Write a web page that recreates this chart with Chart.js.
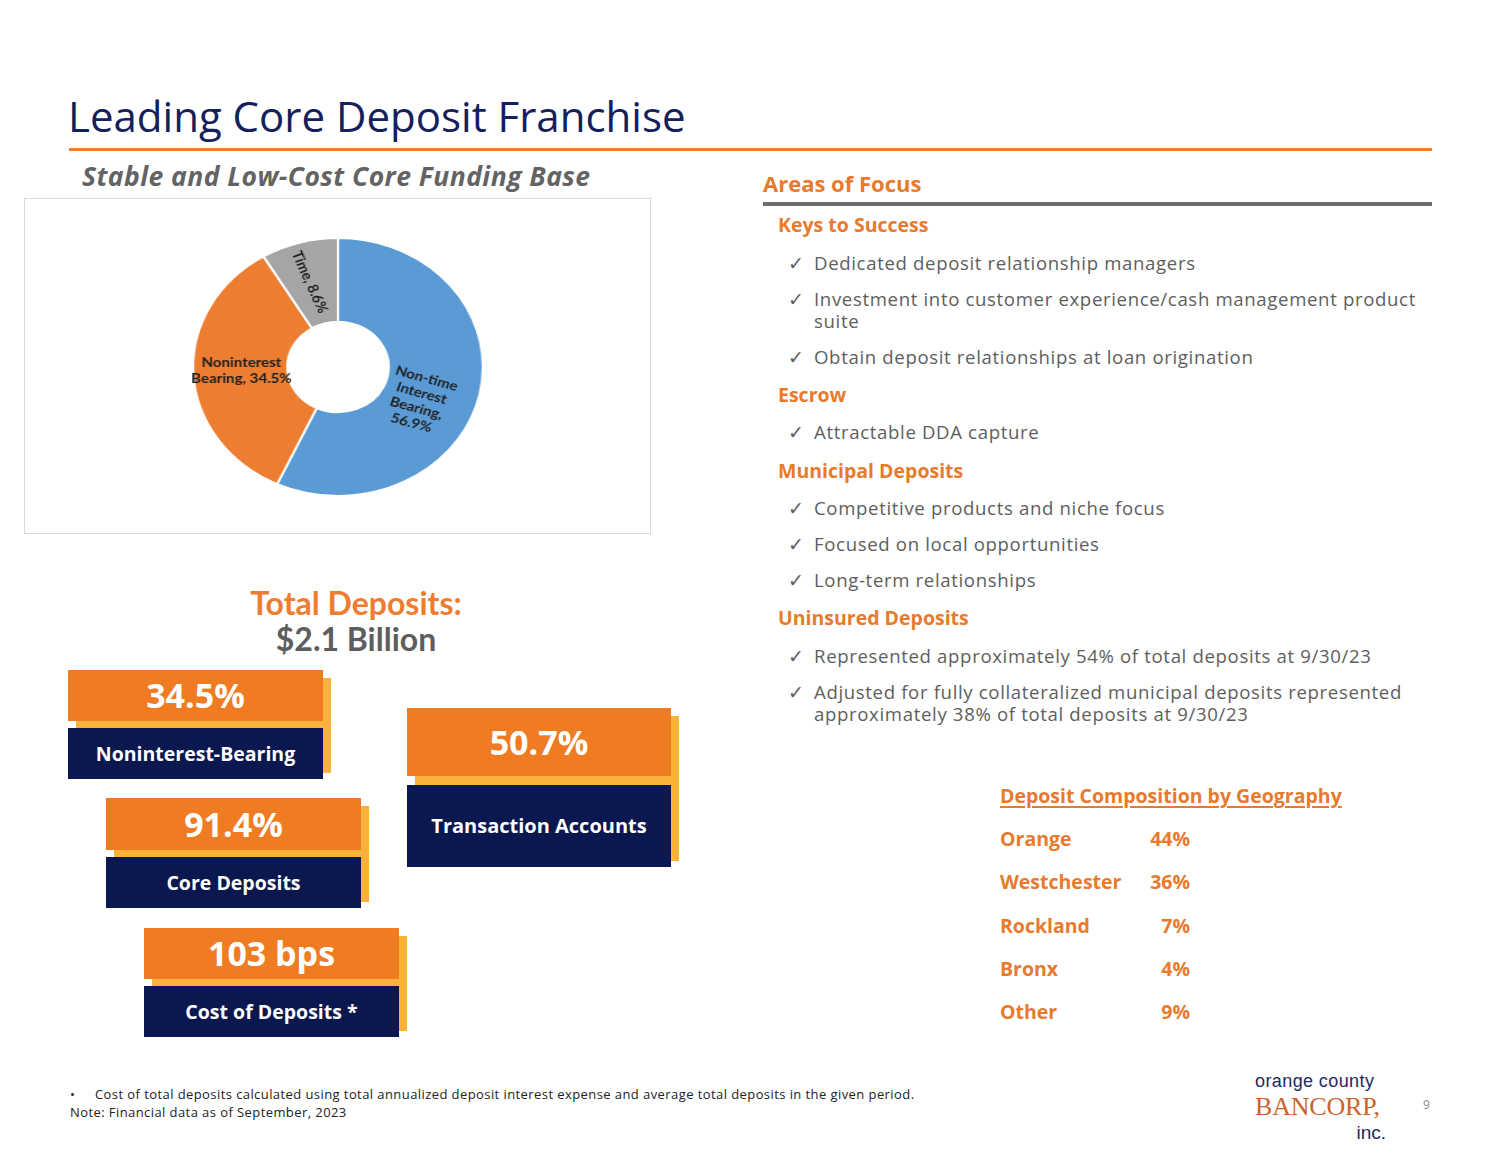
<!DOCTYPE html>
<html>
<head>
<meta charset="utf-8">
<script src="https://cdn.jsdelivr.net/npm/chart.js@4.4.0/dist/chart.umd.min.js"></script>
<style>
  html, body { margin: 0; padding: 0; background: #fff; }
  #slide { position: relative; width: 1500px; height: 1159px; overflow: hidden; font-family: "Open Sans", sans-serif; }
  .abs { position: absolute; white-space: nowrap; }
  .title { left: 68px; top: 87px; font-size: 42px; color: #14205c; }
  .rule { position: absolute; left: 69px; top: 148px; width: 1363px; height: 3px; background: #ed7d31; }
  .sub { left: 82px; top: 158px; font-style: italic; font-weight: 700; font-size: 26.5px; letter-spacing: 0.45px; color: #636363; }
  .box { position: absolute; left: 24px; top: 198px; width: 627px; height: 336px; border: 1.5px solid #d9d9d9; box-sizing: border-box; }
  .orange-h { color: #e87a2e; font-weight: 700; }
  .focus { left: 763px; top: 168px; font-size: 22px; }
  .grayrule { position: absolute; left: 763px; top: 202px; width: 669px; height: 4px; background: #6d6d6d; }
  .sec { left: 778px; font-size: 19.5px; }
  .bul { left: 788px; font-size: 18.6px; letter-spacing: 0.65px; color: #5e5e5e; line-height: 22px; }
  .bul span.ck { display: inline-block; width: 26px; letter-spacing: 0; }
  .bul span.tx { display: inline-block; vertical-align: top; }
  .total1 { left: 180px; width: 352px; text-align: center; top: 583px; font-family: Lato, sans-serif; font-weight: 700; font-size: 32px; color: #ed7d31; }
  .total2 { left: 180px; width: 352px; text-align: center; top: 619px; font-family: Lato, sans-serif; font-weight: 700; font-size: 32px; color: #5e5e5e; }
  .card { position: absolute; }
  .card .sh { position: absolute; background: #fbb23b; }
  .card .top { position: absolute; background: #ef7b22; color: #fff; font-weight: 700; text-align: center; }
  .card .bot { position: absolute; background: #0b1850; color: #fff; font-weight: 700; text-align: center; }
  .geo { font-size: 19.5px; }
  .geo-h { left: 1000px; top: 782px; text-decoration: underline; text-decoration-thickness: 2px; text-underline-offset: 3px; }
  .val { width: 80px; text-align: right; left: 1110px; }
  .foot { font-size: 13px; letter-spacing: 0.42px; color: #222; }
  .logo { left: 1255px; top: 1071px; width: 131px; text-align: right; }
  .logo span { display: block; }
  .logo .l1 { line-height: 21px; font-family: "Liberation Sans", sans-serif; font-size: 18px; color: #1c2a63; letter-spacing: 0.4px; text-align: left; }
  .logo .l2 { line-height: 30px; font-family: "Liberation Serif", serif; font-size: 26px; color: #c9632d; letter-spacing: -0.2px; text-align: left; }
  .logo .l3 { line-height: 22px; font-family: "Liberation Sans", sans-serif; font-size: 19px; color: #1c2a63; }
  .pnum { left: 1423px; top: 1096px; font-size: 12px; color: #8a8a8a; }
</style>
</head>
<body>
<div id="slide">
  <div class="abs title">Leading Core Deposit Franchise</div>
  <div class="rule"></div>
  <div class="abs sub">Stable and Low-Cost Core Funding Base</div>
  <div class="box"></div>
  <canvas id="pie" width="260" height="260" style="position:absolute;left:192px;top:237px;width:292px;height:260px;"></canvas>

  <div class="abs total1">Total Deposits:</div>
  <div class="abs total2">$2.1 Billion</div>
  <div id="cards"></div>

  <div class="abs orange-h focus">Areas of Focus</div>
  <div class="grayrule"></div>
  <div id="focus"></div>

  <div id="geo"></div>

  <div class="abs foot" style="left:70px;top:1085px;">•</div>
  <div class="abs foot" style="left:95px;top:1085px;">Cost of total deposits calculated using total annualized deposit interest expense and average total deposits in the given period.</div>
  <div class="abs foot" style="left:70px;top:1103px;">Note: Financial data as of September, 2023</div>

  <div class="abs logo"><span class="l1">orange county</span><span class="l2">BANCORP,</span><span class="l3">inc.</span></div>
  <div class="abs pnum">9</div>
</div>

<script>
// deposit mix (doughnut)
const categories = ['Non-time Interest Bearing', 'Noninterest Bearing', 'Time']
const shares = [56.9, 34.5, 8.6]
const sliceColors = ['#5b9bd5', '#ed7d31', '#a5a5a5']

// key metric cards
const cardValues = ['34.5%', '91.4%', '103 bps', '50.7%']
const cardLabels = ['Noninterest-Bearing', 'Core Deposits', 'Cost of Deposits *', 'Transaction Accounts']

// geography table
const regions = ['Orange', 'Westchester', 'Rockland', 'Bronx', 'Other']
const regionShares = [44, 36, 7, 4, 9]

// areas of focus text
const focusSections = ['Keys to Success', 'Escrow', 'Municipal Deposits', 'Uninsured Deposits']
const focusBullets = [
    ['Dedicated deposit relationship managers',
     'Investment into customer experience/cash management product<br>suite',
     'Obtain deposit relationships at loan origination'],
    ['Attractable DDA capture'],
    ['Competitive products and niche focus', 'Focused on local opportunities', 'Long-term relationships'],
    ['Represented approximately 54% of total deposits at 9/30/23',
     'Adjusted for fully collateralized municipal deposits represented<br>approximately 38% of total deposits at 9/30/23']
]

// layout of the right column (tops in px)
const sectionTops = [211, 381, 457, 604]
const bulletTops = [[252, 288, 346], [421], [497, 533, 569], [645, 681]]
let html = ''
focusSections.forEach((s, i) => {
    html += `<div class="abs orange-h sec" style="top:${sectionTops[i]}px">${s}</div>`
    focusBullets[i].forEach((b, j) => {
        html += `<div class="abs bul" style="top:${bulletTops[i][j]}px"><span class="ck">✓</span><span class="tx">${b}</span></div>`
    })
})
document.getElementById('focus').innerHTML = html

// cards: [left, top, width, topH, gap, botH, valueFont, labelFont]
const cardBoxes = [
    [68, 670, 255, 51, 7, 51, 34, 19.5],
    [106, 798, 255, 52, 7, 51, 34, 19.5],
    [144, 928, 255, 51, 7, 51, 34, 19.5],
    [407, 708, 264, 68, 9, 82, 34, 20]
]
html = ''
cardBoxes.forEach((c, i) => {
    const [l, t, w, h1, g, h2, f1, f2] = c
    const total = h1 + g + h2
    html += `<div class="card" style="left:${l}px;top:${t}px;">
      <div class="sh" style="left:8px;top:8px;width:${w}px;height:${total - 14}px"></div>
      <div class="top" style="left:0;top:0;width:${w}px;height:${h1}px;line-height:${h1}px;font-size:${f1}px">${cardValues[i]}</div>
      <div class="bot" style="left:0;top:${h1 + g}px;width:${w}px;height:${h2}px;line-height:${h2}px;font-size:${f2}px">${cardLabels[i]}</div>
    </div>`
})
document.getElementById('cards').innerHTML = html

html = '<div class="abs orange-h geo geo-h">Deposit Composition by Geography</div>'
regions.forEach((r, i) => {
    const top = 825 + i * 43.3
    html += `<div class="abs orange-h geo" style="left:1000px;top:${top}px">${r}</div>`
    html += `<div class="abs orange-h geo val" style="top:${top}px">${regionShares[i]}%</div>`
})
document.getElementById('geo').innerHTML = html

// labels drawn inside the slices
const sliceLabels = {
    id: 'sliceLabels',
    afterDatasetsDraw(chart, args, opts) {
        const ctx = chart.ctx
        const meta = chart.getDatasetMeta(0)
        meta.data.forEach((arc, i) => {
            const p = arc.tooltipPosition()
            const st = opts.styles[i]
            const words = categories[i].split(' ')
            const lines = st.split.map(part => part.map(k => k === 'v' ? shares[i] + '%' : words[k]).join(' '))
            lines[st.commaLine] = lines[st.commaLine].replace(/(\S+)( \S+%)?$/, (m, a, b) => a + ',' + (b || ''))
            ctx.save()
            ctx.translate(p.x + st.dx, p.y + st.dy)
            ctx.rotate(st.rot * Math.PI / 180)
            ctx.font = 'bold 13.4px Lato, sans-serif'
            ctx.fillStyle = '#1e1e1e'
            ctx.textAlign = 'center'
            ctx.textBaseline = 'middle'
            const lh = 15.5
            lines.forEach((ln, k) => {
                ctx.fillText(ln, 0, (k - (lines.length - 1) / 2) * lh)
            })
            ctx.restore()
        })
    }
}

new Chart(document.getElementById('pie'), {
    type: 'doughnut',
    data: {
        labels: categories,
        datasets: [{
            data: shares,
            backgroundColor: sliceColors,
            borderColor: '#ffffff',
            borderWidth: 2
        }]
    },
    options: {
        responsive: false,
        animation: false,
        cutout: '35%',
        plugins: {
            legend: { display: false },
            tooltip: { enabled: false },
            sliceLabels: {
                styles: [
                    { split: [[0], [1], [2], ['v']], commaLine: 2, dx: -13, dy: 15, rot: 17 },
                    { split: [[0], [1, 'v']], commaLine: 1, dx: 1, dy: -1, rot: 0 },
                    { split: [[0, 'v']], commaLine: 0, dx: -2, dy: -1, rot: 68 }
                ]
            }
        }
    },
    plugins: [sliceLabels]
})
</script>
</body>
</html>
